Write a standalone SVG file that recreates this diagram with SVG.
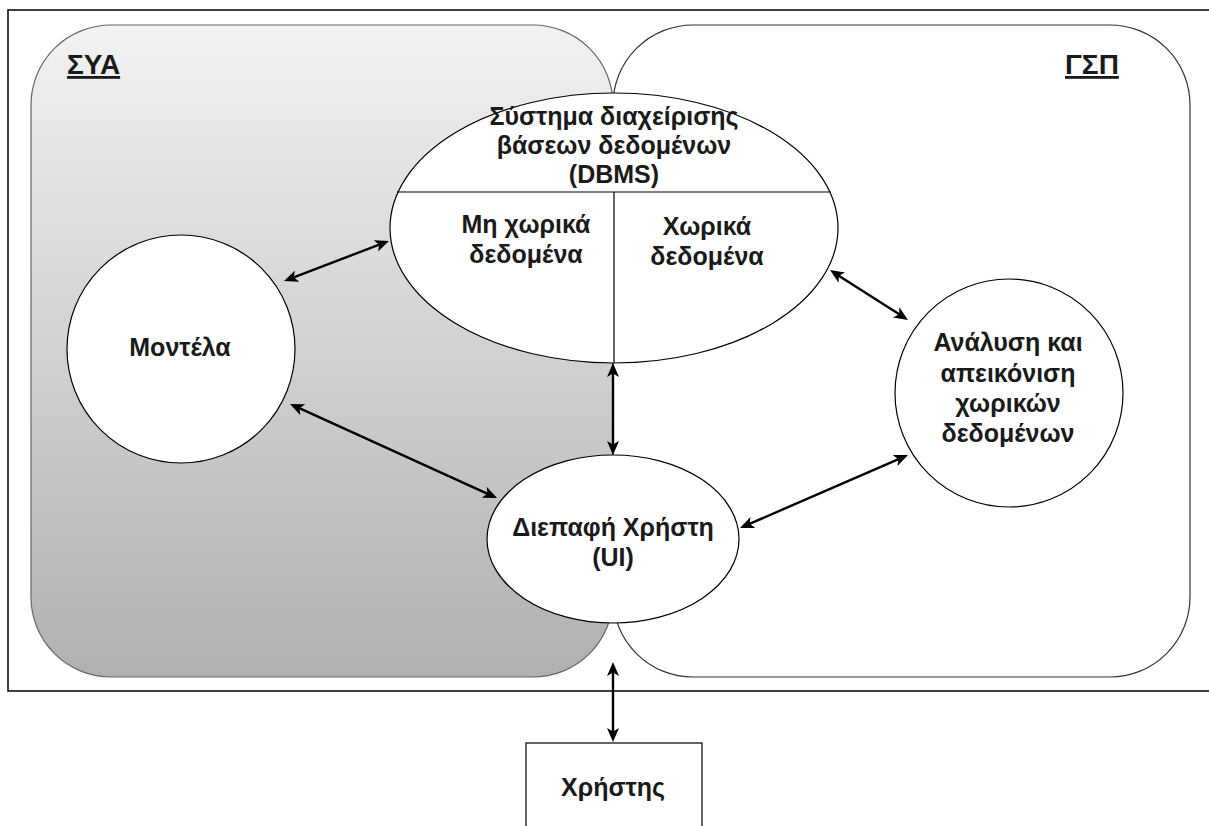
<svg xmlns="http://www.w3.org/2000/svg" width="1209" height="826" viewBox="0 0 1209 826">
<defs>
<linearGradient id="syaGrad" x1="0" y1="0" x2="0" y2="1">
<stop offset="0" stop-color="#f2f2f2"/>
<stop offset="1" stop-color="#b0b0b0"/>
</linearGradient>
<marker id="arr" viewBox="0 0 14 12" markerWidth="14" markerHeight="12" refX="5" refY="6" orient="auto-start-reverse" markerUnits="userSpaceOnUse">
<path d="M0,0 L14,6 L0,12 L3.5,6 z" fill="#000"/>
</marker>
<style>
.lbl{font-family:"Liberation Sans",Arial,sans-serif;font-size:25px;font-weight:bold;fill:#1a1a1a;text-anchor:middle}
.title{font-family:"Liberation Sans",Arial,sans-serif;font-size:28px;font-weight:bold;fill:#1a1a1a;text-decoration:underline}
.shape{fill:#fff;stroke:#000;stroke-width:1.2}
.conn{fill:none;stroke:#000;stroke-width:2.4;marker-start:url(#arr);marker-end:url(#arr)}
</style>
</defs>
<rect id="frame" x="8" y="10" width="1212" height="681" fill="#fff" stroke="#000" stroke-width="1.5"/>
<g id="sya">
<rect x="31" y="25" width="582" height="652" rx="80" ry="80" fill="url(#syaGrad)" stroke="#666" stroke-width="1.2"/>
<text class="title" x="67" y="74">ΣΥΑ</text>
</g>
<g id="gsp">
<rect x="613" y="25" width="577" height="652" rx="80" ry="80" fill="#fff" stroke="#333" stroke-width="1.2"/>
<text class="title" x="1065" y="74">ΓΣΠ</text>
</g>
<g id="dbms">
<ellipse class="shape" cx="614" cy="228" rx="224" ry="135"/>
<line x1="397" y1="192" x2="831" y2="192" stroke="#000" stroke-width="1.2"/>
<line x1="614" y1="192" x2="614" y2="363" stroke="#000" stroke-width="1.2"/>
<text class="lbl" x="614" y="125">Σύστημα διαχείρισης</text>
<text class="lbl" x="614" y="154">βάσεων δεδομένων</text>
<text class="lbl" x="614" y="183">(DBMS)</text>
<text class="lbl" x="526" y="233">Μη χωρικά</text>
<text class="lbl" x="526" y="263">δεδομένα</text>
<text class="lbl" x="707" y="235">Χωρικά</text>
<text class="lbl" x="707" y="265">δεδομένα</text>
</g>
<g id="models">
<circle class="shape" cx="181" cy="349" r="114"/>
<text class="lbl" x="180" y="356">Μοντέλα</text>
</g>
<g id="analysis">
<circle class="shape" cx="1009" cy="393" r="114"/>
<text class="lbl" x="1008" y="351">Ανάλυση και</text>
<text class="lbl" x="1008" y="382">απεικόνιση</text>
<text class="lbl" x="1008" y="412">χωρικών</text>
<text class="lbl" x="1008" y="442">δεδομένων</text>
</g>
<g id="ui">
<ellipse class="shape" cx="613" cy="539" rx="126" ry="84"/>
<text class="lbl" x="613" y="536">Διεπαφή Χρήστη</text>
<text class="lbl" x="613" y="566">(UI)</text>
</g>
<g id="user">
<rect class="shape" x="526" y="743" width="176" height="100"/>
<text class="lbl" x="613" y="796">Χρήστης</text>
</g>
<g id="connectors">
<line class="conn" x1="292.4" y1="277.9" x2="380.6" y2="244.1"/>
<line class="conn" x1="298.2" y1="407.7" x2="488.8" y2="494.3"/>
<line class="conn" x1="613" y1="372" x2="613" y2="446"/>
<line class="conn" x1="837.6" y1="274.9" x2="900.4" y2="315.1"/>
<line class="conn" x1="748.3" y1="524.4" x2="899.7" y2="458.6"/>
<line class="conn" x1="613" y1="671" x2="613" y2="733"/>
</g>
</svg>
